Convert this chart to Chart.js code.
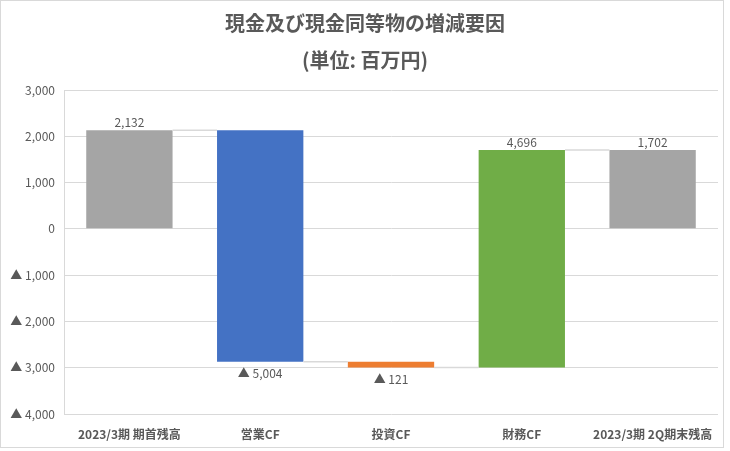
<!DOCTYPE html>
<html>
<head>
<meta charset="utf-8">
<script src="https://cdn.jsdelivr.net/npm/chart.js@4.4.0/dist/chart.umd.min.js"></script>
<style>
  html, body { margin: 0; padding: 0; background: #ffffff; }
  #wrap { width: 730px; height: 451px; position: relative; }
</style>
</head>
<body>
<div id="wrap"><canvas id="c" width="730" height="451"></canvas></div>
<script>
const titleLines = ['現金及び現金同等物の増減要因', '(単位: 百万円)'];
const categories = ['2023/3期 期首残高', '営業CF', '投資CF', '財務CF', '2023/3期 2Q期末残高'];
const values = [2132, -5004, -121, 4696, 1702];
const kinds = ['total', 'delta', 'delta', 'delta', 'total'];
const barColors = ['#a5a5a5', '#4472c4', '#ed7d31', '#70ad47', '#a5a5a5'];
const yTicks = [3000, 2000, 1000, 0, -1000, -2000, -3000, -4000];

const fmt = v => {
  const s = Math.abs(v).toLocaleString('en-US');
  return v < 0 ? '▲ ' + s : s;
};

// build floating ranges from running total
const ranges = [];
let running = 0;
values.forEach((v, i) => {
  if (kinds[i] === 'total') {
    ranges.push([0, v]);
    running = v;
  } else {
    const next = running + v;
    ranges.push([Math.min(running, next), Math.max(running, next)]);
    running = next;
  }
});
// levels for connectors: level after each bar
const levels = [];
running = 0;
values.forEach((v, i) => {
  running = kinds[i] === 'total' ? v : running + v;
  levels.push(running);
});

const CJK = '"Noto Sans CJK JP", "Noto Sans", sans-serif';
const NUM = '"Noto Sans CJK JP", "Open Sans", sans-serif';
const TXT = '#595959';

const framePlugin = {
  id: 'frame',
  beforeDraw(chart) {
    const ctx = chart.ctx;
    ctx.save();
    ctx.fillStyle = '#ffffff';
    ctx.fillRect(0, 0, chart.width, chart.height);
    ctx.strokeStyle = '#d9d9d9';
    ctx.lineWidth = 1;
    ctx.strokeRect(0.5, 0.5, 723, 447);
    ctx.restore();
  },
  afterDraw(chart) {
    const ctx = chart.ctx;
    ctx.save();
    ctx.fillStyle = TXT;
    ctx.textAlign = 'center';
    ctx.textBaseline = 'middle';
    ctx.font = 'bold 20px ' + CJK;
    ctx.fillText(titleLines[0], 365, 23);
    ctx.fillText(titleLines[1], 365, 60);
    ctx.restore();
  }
};

const connectorPlugin = {
  id: 'connectors',
  afterDatasetsDraw(chart) {
    const meta = chart.getDatasetMeta(0);
    const y = chart.scales.y;
    const ctx = chart.ctx;
    ctx.save();
    ctx.strokeStyle = '#d9d9d9';
    ctx.lineWidth = 1.5;
    for (let i = 0; i < meta.data.length - 1; i++) {
      const a = meta.data[i], b = meta.data[i + 1];
      const yy = y.getPixelForValue(levels[i]);
      ctx.beginPath();
      ctx.moveTo(a.x + a.width / 2, yy);
      ctx.lineTo(b.x - b.width / 2, yy);
      ctx.stroke();
    }
    // data labels
    ctx.fillStyle = TXT;
    ctx.textAlign = 'center';
    ctx.textBaseline = 'middle';
    ctx.font = '12px ' + NUM;
    meta.data.forEach((el, i) => {
      const v = values[i];
      const r = ranges[i];
      if (v >= 0) {
        ctx.fillText(fmt(v), el.x, y.getPixelForValue(r[1]) - 8);
      } else {
        ctx.fillText(fmt(v), el.x, y.getPixelForValue(r[0]) + 12);
      }
    });
    ctx.restore();
  }
};

new Chart(document.getElementById('c'), {
  type: 'bar',
  data: {
    labels: categories,
    datasets: [{
      data: ranges,
      backgroundColor: barColors,
      borderColor: barColors,
      borderWidth: 0,
      borderSkipped: false,
      barPercentage: 0.66,
      categoryPercentage: 1.0
    }]
  },
  options: {
    responsive: false,
    animation: false,
    devicePixelRatio: 1,
    layout: { padding: { left: 0, right: 12, top: 90, bottom: 0 } },
    plugins: {
      legend: { display: false },
      title: { display: false },
      tooltip: { enabled: false }
    },
    scales: {
      x: {
        grid: { display: false, drawTicks: false },
        border: { display: false },
        ticks: {
          color: TXT,
          padding: 13,
          maxRotation: 0,
          autoSkip: false,
          font: { family: CJK, size: 12, weight: 'bold' }
        },
        afterFit(scale) { scale.height = 37; }
      },
      y: {
        min: -4000,
        max: 3000,
        afterBuildTicks(scale) { scale.ticks = yTicks.map(v => ({ value: v })); },
        grid: { color: '#d9d9d9', lineWidth: 1, drawTicks: false },
        border: { display: true, color: '#d9d9d9', width: 1 },
        ticks: {
          color: TXT,
          padding: 9,
          font: { family: NUM, size: 12 },
          callback: v => fmt(v)
        },
        afterFit(scale) { scale.width = 64; }
      }
    }
  },
  plugins: [framePlugin, connectorPlugin]
});
</script>
</body>
</html>
